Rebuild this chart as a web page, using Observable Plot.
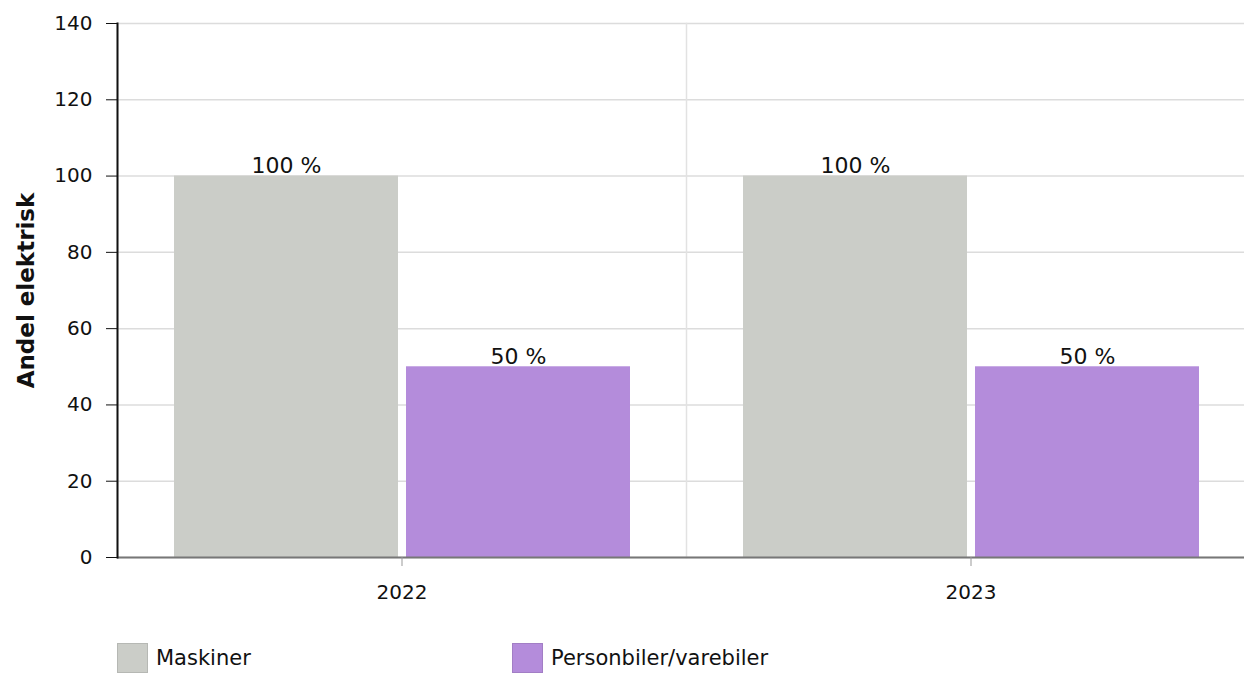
<!DOCTYPE html>
<html>
<head>
<meta charset="utf-8">
<script src="https://cdn.jsdelivr.net/npm/d3@7"></script>
<script src="https://cdn.jsdelivr.net/npm/@observablehq/plot@0.6"></script>
<style>
  html, body { margin: 0; padding: 0; background: #fff; overflow: hidden; }
  #chart svg { max-width: none !important; display: block; }
  .legend { display: flex; padding-left: 117px; margin-top: 23px; font-family: "DejaVu Sans", Verdana, sans-serif; font-size: 21px; color: #111; }
  .legend .item { display: flex; align-items: center; width: 395px; }
  .legend .sw { width: 31px; height: 30px; margin-right: 8px; box-sizing: border-box; }
</style>
</head>
<body>
<div id="chart"></div>
<div class="legend" id="legend"></div>
<script>
const years = ["2022", "2023"];
const seriesNames = ["Maskiner", "Personbiler/varebiler"];
const maskiner = [100, 100];
const personbiler = [50, 50];
const seriesColors = ["#cbcdc8", "#b48cdb"];
const yTicks = [0, 20, 40, 60, 80, 100, 120, 140];

const data = [];
years.forEach((y, i) => {
  data.push({year: y, series: seriesNames[0], value: maskiner[i]});
  data.push({year: y, series: seriesNames[1], value: personbiler[i]});
});

const chart = Plot.plot({
  width: 1255,
  height: 620,
  marginLeft: 117,
  marginRight: 0,
  marginTop: 23,
  marginBottom: 63,
  style: {fontFamily: "DejaVu Sans, Verdana, sans-serif", fontSize: "20px", color: "#111", background: "#fff"},
  fx: {domain: years, padding: 0},
  x: {domain: seriesNames, paddingInner: 0.0345, paddingOuter: 0.2435, axis: null},
  y: {domain: [0, 140]},
  color: {domain: seriesNames, range: seriesColors},
  marks: [
    Plot.gridY(yTicks, {stroke: "#dcdcdc", strokeOpacity: 1, strokeWidth: 1.5}),
    Plot.frame({anchor: "left", stroke: "#e2e2e2", strokeWidth: 1.5}),
    Plot.barY(data, {fx: "year", x: "series", y: "value", fill: "series", fillOpacity: 1}),
    Plot.ruleY([0], {stroke: "#777", strokeWidth: 2}),
    Plot.text(data, {fx: "year", x: "series", y: "value", text: d => d.value + " %", lineAnchor: "bottom", dy: -3, fontSize: 22, fill: "#111"}),
    Plot.frame({anchor: "left", facetAnchor: "left", stroke: "#111", strokeWidth: 2}),
    Plot.axisY({anchor: "left", ticks: yTicks, tickSize: 11, tickPadding: 14, fontSize: 20, label: "Andel elektrisk", labelAnchor: "center", labelArrow: "none", labelOffset: 100, tickFormat: d => String(d)}),
    Plot.axisFx({anchor: "bottom", tickSize: 9, tickPadding: 18, fontSize: 20, stroke: "#999", label: null})
  ]
});

chart.querySelectorAll("text").forEach(t => {
  if (t.textContent === "Andel elektrisk") { t.setAttribute("font-weight", "bold"); t.setAttribute("font-size", "23"); }
});
document.getElementById("chart").appendChild(chart);

const legend = document.getElementById("legend");
seriesNames.forEach((name, i) => {
  const item = document.createElement("div");
  item.className = "item";
  const sw = document.createElement("span");
  sw.className = "sw";
  sw.style.background = seriesColors[i];
  sw.style.border = "1px solid " + d3.color(seriesColors[i]).darker(0.3);
  const lab = document.createElement("span");
  lab.textContent = name;
  item.appendChild(sw);
  item.appendChild(lab);
  legend.appendChild(item);
});
</script>
</body>
</html>
